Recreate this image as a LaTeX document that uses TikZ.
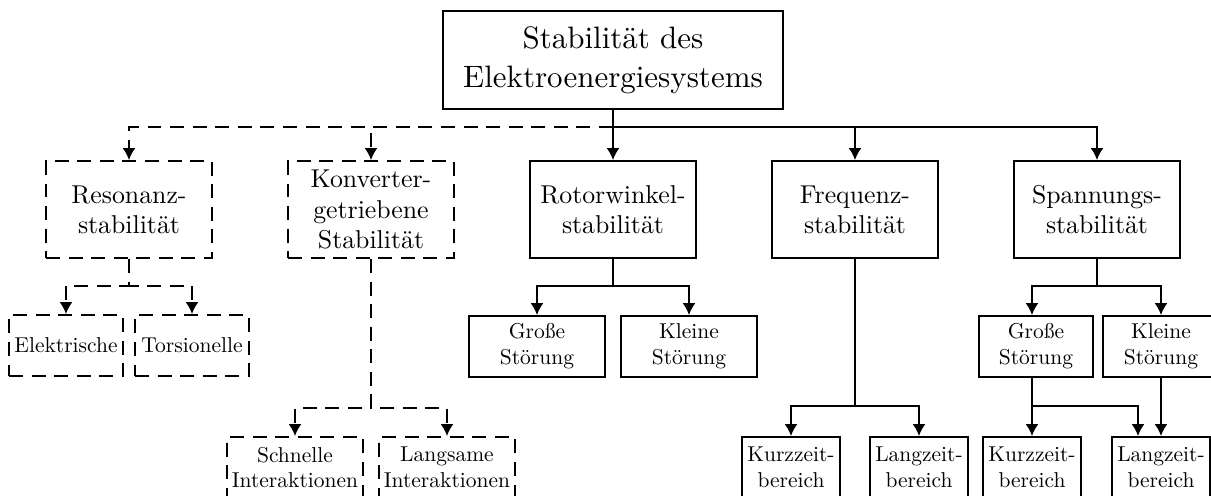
\documentclass[tikz,border=0pt]{standalone}
\usepackage{fontspec}
\setmainfont{lmroman10-regular}[Extension=.otf]
\usetikzlibrary{arrows.meta,calc}
\begin{document}
\begin{tikzpicture}[x=0.4651pt,y=-0.4651pt,
  box/.style={draw,line width=0.9pt,rectangle,align=center,inner sep=0pt},
  dbox/.style={box,dash pattern=on 6.5pt off 4pt},
  sz/.style 2 args={minimum width=#1*0.4651pt,minimum height=#2*0.4651pt},
  lin/.style={line width=0.9pt},
  conn/.style={lin,-{Latex[length=5.5pt,width=6pt]}},
  dconn/.style={conn,dash pattern=on 6.5pt off 4pt},
  big/.style={font=\Large},
  mid/.style={font=\large},
  sml/.style={font=\normalsize}]
\useasboundingbox (0,0) rectangle (1211,495);
% top
\node[box,big,sz={340}{98}] (top) at (613,60) {Stabilität des\\Elektroenergiesystems};
% second row
\node[dbox,mid,sz={166}{97}] (res) at (129,209.5) {Resonanz-\\stabilität};
\node[dbox,mid,sz={166}{97}] (konv) at (371,209.5) {Konverter-\\getriebene\\Stabilität};
\node[box,mid,sz={166}{97}] (rot) at (613,209.5) {Rotorwinkel-\\stabilität};
\node[box,mid,sz={166}{97}] (freq) at (855,209.5) {Frequenz-\\stabilität};
\node[box,mid,sz={166}{97}] (span) at (1097,209.5) {Spannungs-\\stabilität};
% third row
\node[dbox,sml,sz={114}{61}] (elek) at (66,345.5) {Elektrische};
\node[dbox,sml,sz={114}{61}] (tors) at (192,345.5) {Torsionelle};
\node[box,sml,sz={136}{61}] (rgross) at (537,346.5) {Große\\Störung};
\node[box,sml,sz={136}{61}] (rklein) at (689,346.5) {Kleine\\Störung};
\node[box,sml,sz={114}{61}] (sgross) at (1036,346.5) {Große\\Störung};
\node[box,sml,sz={116}{61}] (sklein) at (1161,346.5) {Kleine\\Störung};
% bottom row
\node[dbox,sml,sz={136}{61}] (schn) at (295,467.5) {Schnelle\\Interaktionen};
\node[dbox,sml,sz={136}{61}] (lang) at (447,467.5) {Langsame\\Interaktionen};
\node[box,sml,sz={98}{61}] (fkurz) at (791,467.5) {Kurzzeit-\\bereich};
\node[box,sml,sz={98}{61}] (flang) at (919,467.5) {Langzeit-\\bereich};
\node[box,sml,sz={98}{61}] (skurz) at (1032,467.5) {Kurzzeit-\\bereich};
\node[box,sml,sz={98}{61}] (slang) at (1161,467.5) {Langzeit-\\bereich};
% connectors from top
\coordinate (b) at (613,127);
\draw[conn] (top.south) -- (rot.north);
\draw[conn] (b) -| (freq.north);
\draw[conn] (b) -| (span.north);
\draw[dconn] (b) -| (konv.north);
\draw[dconn] (b) -| (res.north);
% resonanz
\draw[dconn] (res.south) -- ++(0,27) -| (elek.north);
\draw[dconn] (res.south) -- ++(0,27) -| (tors.north);
% konverter
\draw[dconn] (konv.south) -- ++(0,149) -| (schn.north);
\draw[dconn] (konv.south) -- ++(0,149) -| (lang.north);
% rotor
\draw[conn] (rot.south) -- ++(0,27) -| (rgross.north);
\draw[conn] (rot.south) -- ++(0,27) -| (rklein.north);
% frequenz
\draw[conn] (freq.south) -- ++(0,147) -| (fkurz.north);
\draw[conn] (freq.south) -- ++(0,147) -| (flang.north);
% spannung
\draw[conn] (span.south) -- ++(0,27) -| ($(sgross.north)+(-4,0)$);
\draw[conn] (span.south) -- ++(0,27) -| (sklein.north);
\draw[conn] ($(sgross.south)+(-4,0)$) -- ++(0,28) -| (skurz.north);
\draw[conn] ($(sgross.south)+(-4,0)$) -- ++(0,28) -| ($(slang.north)+(-23,0)$);
\draw[conn] (sklein.south) -- (slang.north);
\end{tikzpicture}
\end{document}
